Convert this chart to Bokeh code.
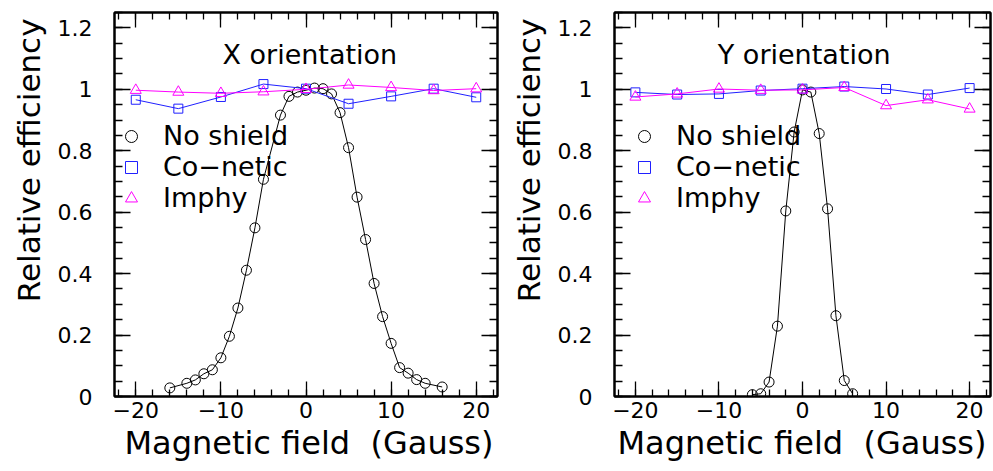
from bokeh.plotting import figure
from bokeh.layouts import row
from bokeh.models import (FixedTicker, LinearAxis, Legend, LegendItem, Label, Range1d, Title,
                          ColumnDataSource)
from bokeh.embed import file_html
from bokeh.resources import INLINE

# ---------------- data ----------------
# No shield, X orientation
field_noshield_X = [-16, -14, -13, -12, -11, -10, -9, -8, -7, -6, -5,
                    -3, -2, -1, 0, 1, 2, 3, 4, 5, 6, 7, 8, 9, 10, 11, 12, 13, 14, 16]
eff_noshield_X = [0.028, 0.043, 0.054, 0.074, 0.087, 0.126, 0.196, 0.288, 0.411, 0.549, 0.707,
                  0.916, 0.977, 0.991, 0.997, 1.004, 1.002, 0.985, 0.924, 0.810, 0.649, 0.511,
                  0.368, 0.260, 0.173, 0.094, 0.076, 0.055, 0.043, 0.031]
# No shield, Y orientation
field_noshield_Y = [-6, -5, -4, -3, -2, -1, 0, 1, 2, 3, 4, 5, 6]
eff_noshield_Y = [0.006, 0.009, 0.047, 0.229, 0.604, 0.861, 0.998, 0.991, 0.856, 0.611, 0.263, 0.052, 0.009]

# Shielded measurements
field_shield = [-20, -15, -10, -5, 0, 5, 10, 15, 20]
eff_conetic_X = [0.966, 0.937, 0.975, 1.017, 1.002, 0.953, 0.977, 1.002, 0.974]
eff_imphy_X = [0.997, 0.991, 0.987, 0.992, 1.000, 1.014, 1.006, 0.996, 1.002]
eff_conetic_Y = [0.990, 0.983, 0.985, 0.996, 1.002, 1.009, 1.001, 0.983, 1.004]
eff_imphy_Y = [0.975, 0.985, 1.001, 0.997, 0.998, 1.006, 0.947, 0.966, 0.936]

x_ticks = [-20, -10, 0, 10, 20]
x_tick_labels = ["\u221220", "\u221210", "0", "10", "20"]
y_ticks = [0, 0.2, 0.4, 0.6, 0.8, 1.0, 1.2]
y_tick_labels = ["0", "0.2", "0.4", "0.6", "0.8", "1", "1.2"]
x_minor = list(range(-22, 23, 2))
y_minor = [i * 0.05 for i in range(0, 26)]

titles = ["X orientation", "Y orientation"]
x_label = "Magnetic field\u00a0 (Gauss)"
y_label = "Relative efficiency"
series_names = ["No shield", "Co\u2212netic", "Imphy"]

FONT = "DejaVu Sans"
BLUE = "#2020ff"
MAGENTA = "#ff00ff"


def style_axis(ax, is_x, show_labels):
    ticks = x_ticks if is_x else y_ticks
    ax.ticker = FixedTicker(ticks=ticks, minor_ticks=x_minor if is_x else y_minor)
    ax.axis_line_color = "black"
    ax.axis_line_width = 2
    ax.major_tick_out = 0
    ax.minor_tick_out = 0
    ax.major_tick_in = 15 if is_x else 16
    ax.minor_tick_in = 7 if is_x else 8
    ax.major_tick_line_color = "black"
    ax.minor_tick_line_color = "black"
    ax.major_tick_line_width = 1.3
    ax.minor_tick_line_width = 1.3
    if show_labels:
        labels = x_tick_labels if is_x else y_tick_labels
        ax.major_label_overrides = {t: l for t, l in zip(ticks, labels)}
        ax.major_label_text_font = FONT
        ax.major_label_text_font_size = "22px"
        ax.major_label_text_color = "black"
        ax.major_label_standoff = 5 if is_x else 22
    else:
        ax.major_label_overrides = {t: "" for t in ticks}
        ax.major_label_text_font_size = "1px"
        ax.major_label_standoff = 0


def series_source(xs, ys, color):
    return ColumnDataSource(dict(x=xs, y=ys, c=[color] * len(xs)))


def make_panel(title, f_ns, e_ns, e_con, e_imp, width, border_left, legend_x, title_x):
    p = figure(width=width, height=471, output_backend="svg", toolbar_location=None,
               x_range=Range1d(-22.5, 22.5), y_range=Range1d(0, 1.25),
               min_border_left=border_left, min_border_right=3,
               min_border_top=12, min_border_bottom=75,
               x_axis_type=None, y_axis_type=None)
    p.grid.visible = False
    p.outline_line_color = "black"
    p.outline_line_width = 2
    p.background_fill_color = "white"
    p.border_fill_color = "white"

    xb = LinearAxis()
    style_axis(xb, True, True)
    p.add_layout(xb, "below")
    yl = LinearAxis()
    style_axis(yl, False, True)
    p.add_layout(yl, "left")
    xt = LinearAxis()
    style_axis(xt, True, False)
    p.add_layout(xt, "above")
    yr = LinearAxis()
    style_axis(yr, False, False)
    p.add_layout(yr, "right")

    # axis titles, aligned to the end of each axis
    p.add_layout(Title(text=x_label, align="right", offset=4, standoff=2,
                       text_font=FONT, text_font_size="32px", text_font_style="normal",
                       text_color="black"), "below")
    p.add_layout(Title(text=y_label, align="right", offset=6, standoff=16,
                       text_font=FONT, text_font_size="31px", text_font_style="normal",
                       text_color="black"), "left")

    s_ns = series_source(f_ns, e_ns, "black")
    s_con = series_source(field_shield, e_con, BLUE)
    s_imp = series_source(field_shield, e_imp, MAGENTA)

    p.line("x", "y", source=s_ns, line_color="black", line_width=1)
    r_ns = p.scatter("x", "y", source=s_ns, marker="circle", size=10, fill_color=None,
                     line_color="c", line_width=1)
    p.line("x", "y", source=s_con, line_color=BLUE, line_width=1)
    r_con = p.scatter("x", "y", source=s_con, marker="square", size=9, fill_color=None,
                      line_color="c", line_width=1)
    p.line("x", "y", source=s_imp, line_color=MAGENTA, line_width=1)
    r_imp = p.scatter("x", "y", source=s_imp, marker="triangle", size=11, fill_color=None,
                      line_color="c", line_width=1)

    legend = Legend(items=[LegendItem(label=n, renderers=[r], index=0)
                           for n, r in zip(series_names, [r_ns, r_con, r_imp])],
                    location=(legend_x, 183), glyph_width=40, glyph_height=30,
                    spacing=0, padding=0, margin=0, label_standoff=12,
                    label_text_font=FONT, label_text_font_size="27px",
                    label_text_color="black",
                    background_fill_alpha=0, border_line_alpha=0)
    p.add_layout(legend, "center")

    p.add_layout(Label(x=title_x, y=1.114, text=title, text_align="center",
                       text_baseline="alphabetic", text_font=FONT,
                       text_font_size="27px", text_color="black"))
    return p


p1 = make_panel(titles[0], field_noshield_X, eff_noshield_X, eff_conetic_X, eff_imphy_X,
                500, 113, -3, 0.45)
p2 = make_panel(titles[1], field_noshield_Y, eff_noshield_Y, eff_conetic_Y, eff_imphy_Y,
                493, 107, 10, 0.2)

layout = row(p1, p2)
open("out.html", "w").write(file_html(layout, INLINE))
